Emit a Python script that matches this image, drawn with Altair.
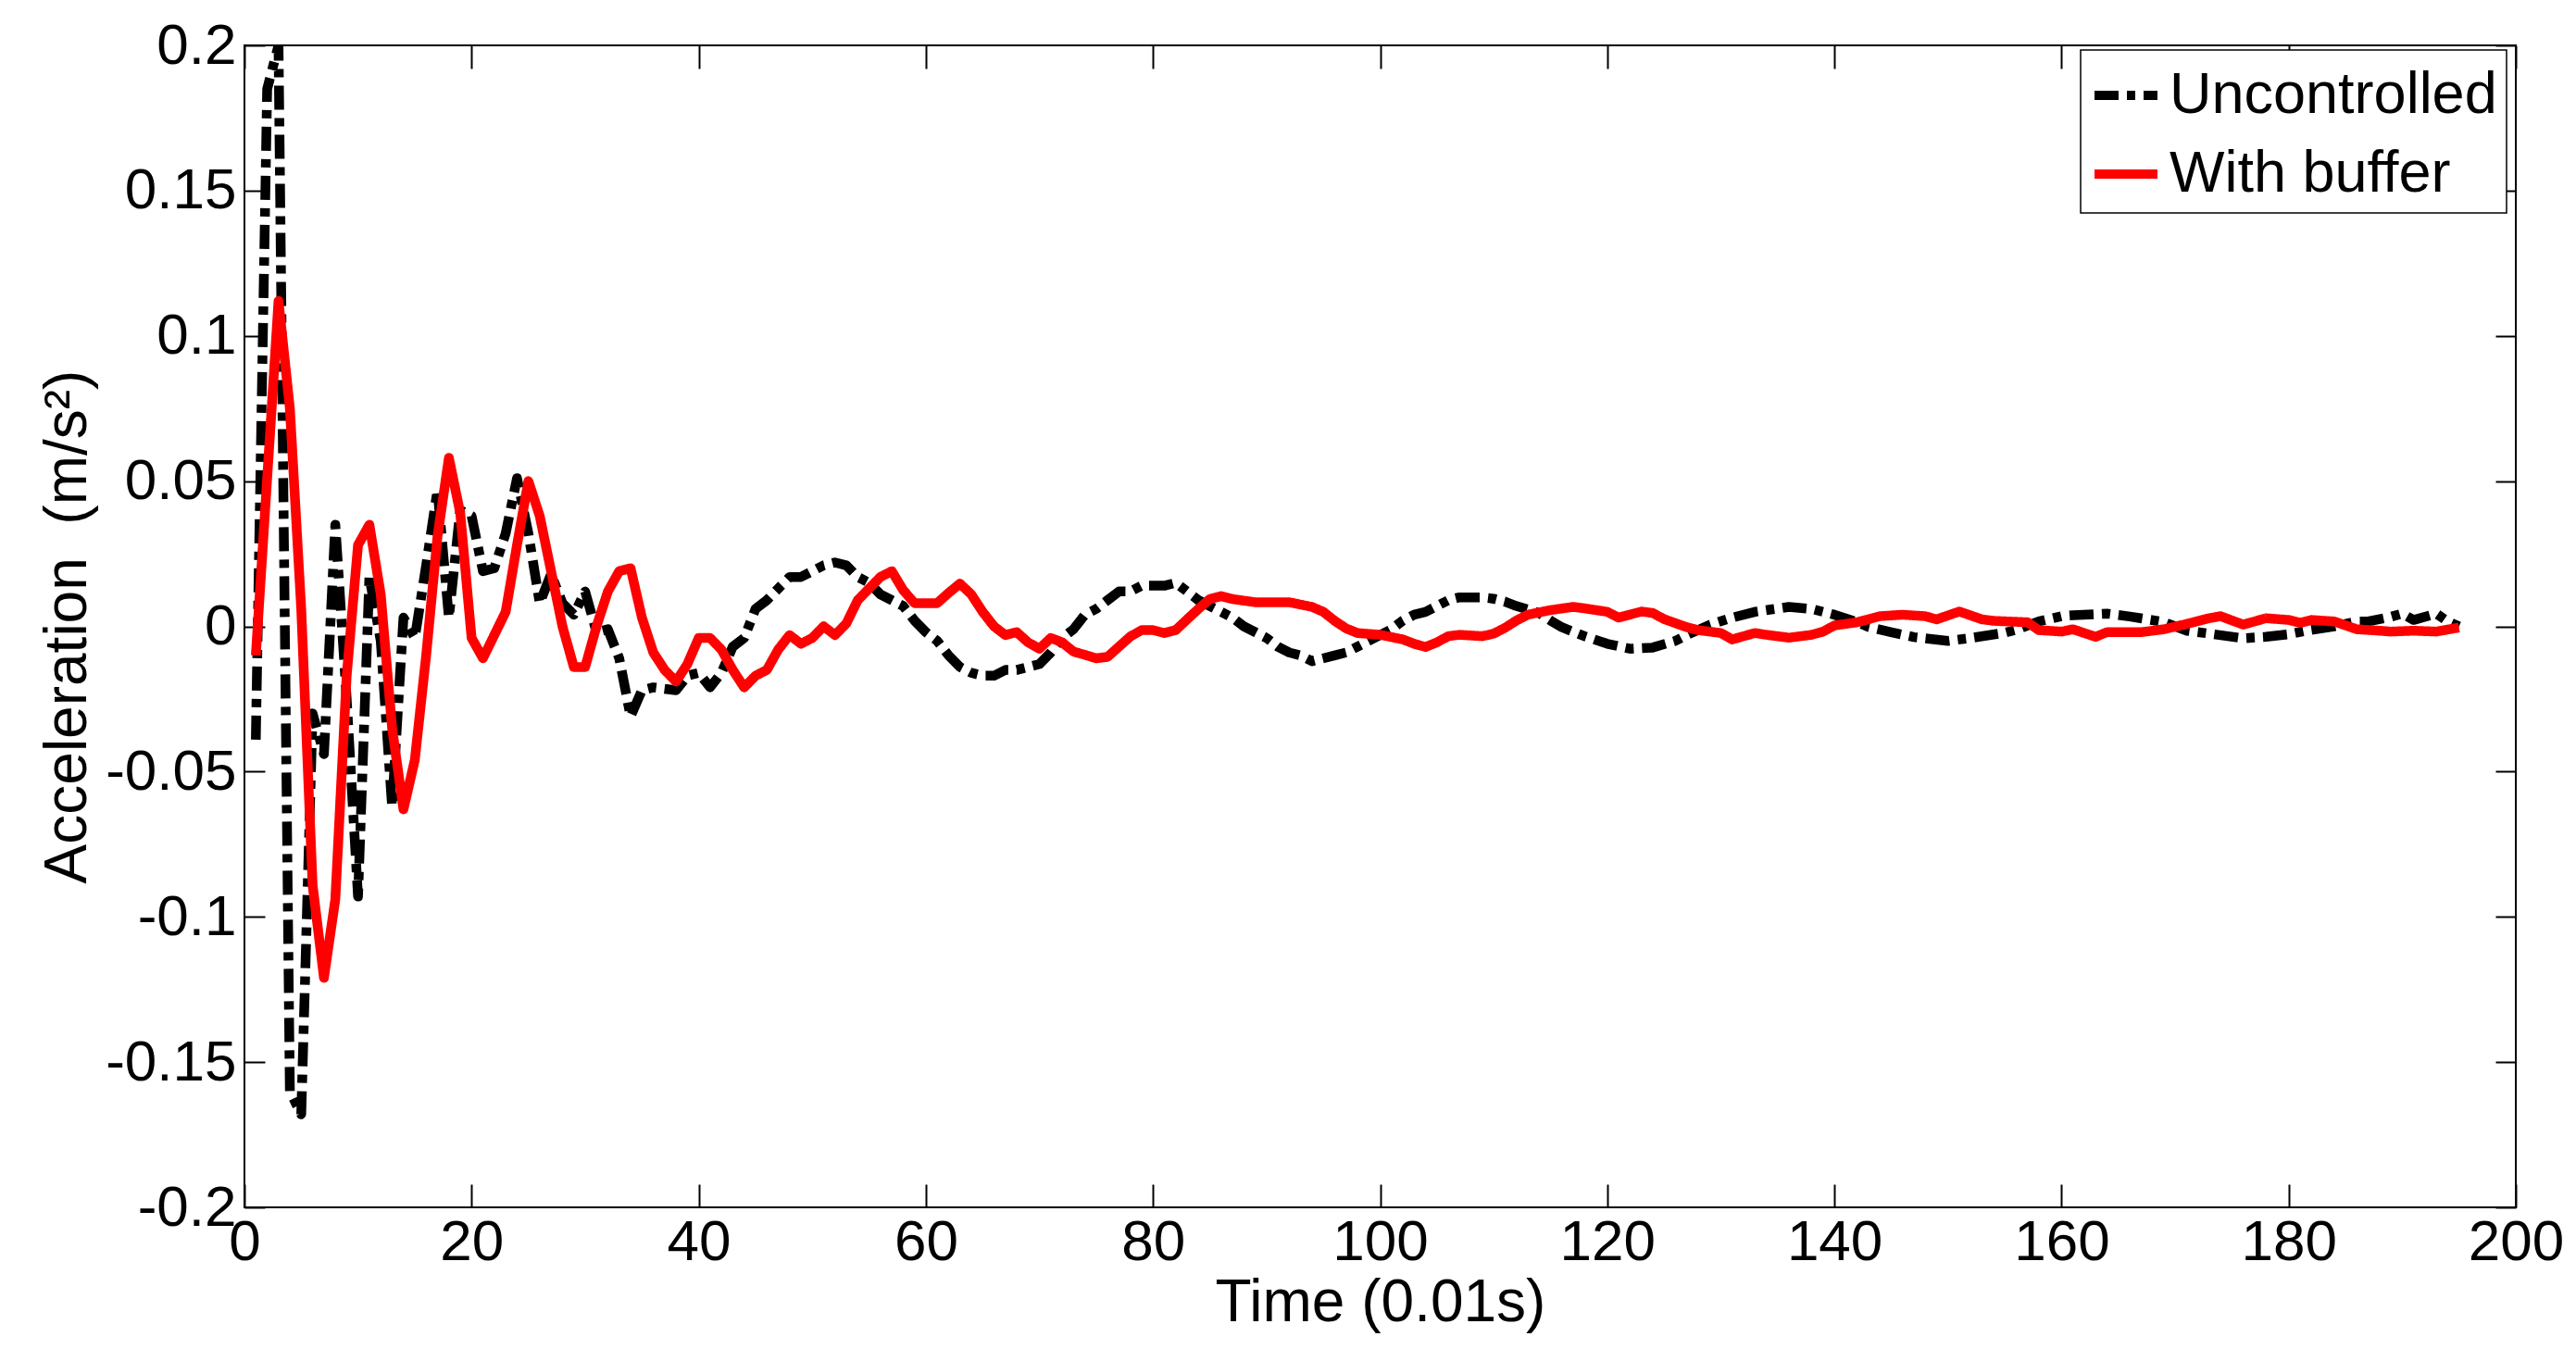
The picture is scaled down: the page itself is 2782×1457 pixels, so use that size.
import altair as alt
import pandas as pd

# Uncontrolled response (black dash-dot)
time_uncontrolled = [
    1, 2, 3, 4, 5, 6, 7, 8, 9, 10, 11, 12, 13, 14, 15, 16, 17, 18, 19, 20,
    21, 22, 23, 24, 25, 26, 27, 28, 29, 30, 31, 32, 33, 34, 35, 36, 38, 39, 40,
    41, 42, 43, 44, 45, 46, 47, 48, 49, 50, 51, 52, 53, 54, 55, 56, 57, 58, 59, 60,
    61, 62, 63, 64, 65, 66, 67, 68, 69, 70, 71, 72, 73, 74, 75, 76, 77, 78, 79, 80,
    81, 82, 83, 84, 85, 86, 87, 88, 89, 90, 91, 92, 93, 94, 95, 96, 97, 98, 99, 100,
    101, 102, 103, 104, 105, 106, 107, 109, 110, 111, 112, 114, 115, 116, 118, 120,
    122, 124, 126, 127, 129, 131, 133, 136, 138, 140, 142, 143, 145, 147, 150,
    152, 155, 156, 158, 160, 161, 164, 166, 169, 171, 173, 176, 178, 180,
    182, 184, 186, 187, 189, 190, 191, 193, 194, 195,
]
acc_uncontrolled = [
    -0.039, 0.185, 0.200, -0.160, -0.168, -0.030, -0.044, 0.035, -0.025, -0.093,
    0.017, -0.005, -0.062, 0.003, -0.004, 0.021, 0.047, 0.003, 0.040, 0.038,
    0.019, 0.020, 0.032, 0.051, 0.032, 0.008, 0.018, 0.008, 0.004, 0.012,
    -0.002, -0.001, -0.011, -0.031, -0.022, -0.021, -0.022, -0.017, -0.016,
    -0.021, -0.016, -0.007, -0.004, 0.006, 0.009, 0.013, 0.017, 0.017, 0.019,
    0.021, 0.022, 0.021, 0.017, 0.015, 0.011, 0.009, 0.007, 0.002, -0.002,
    -0.005, -0.010, -0.014, -0.016, -0.017, -0.017, -0.015, -0.015, -0.014, -0.013,
    -0.009, -0.004, -0.001, 0.004, 0.006, 0.009, 0.012, 0.012, 0.014, 0.014,
    0.014, 0.015, 0.012, 0.009, 0.007, 0.005, 0.003, 0.000, -0.002, -0.004,
    -0.007, -0.009, -0.010, -0.012, -0.011, -0.010, -0.009, -0.007, -0.005, -0.003,
    -0.001, 0.002, 0.004, 0.005, 0.007, 0.009, 0.010, 0.010, 0.0095, 0.0085,
    0.007, 0.0046, 0.002, -0.0003, -0.0034, -0.006,
    -0.0077, -0.0073, -0.005, -0.003, 0.0005, 0.003, 0.005, 0.0067, 0.006, 0.004,
    0.0015, -0.0002, -0.002, -0.0037, -0.005,
    -0.004, -0.0022, -0.0012, 0.0017, 0.0035, 0.0038, 0.0044, 0.0034, 0.0015,
    -0.0015, -0.0025, -0.0041, -0.0036, -0.0027,
    -0.0012, 0.000, 0.0017, 0.0017, 0.0033, 0.0044, 0.0022, 0.0044, 0.0017, 0.000,
]

# With buffer (red solid)
time_buffer = [
    1, 2, 3, 4, 5, 6, 7, 8, 9, 10, 11, 12, 13, 14, 15, 16, 17, 18, 19, 20,
    21, 22, 23, 24, 25, 26, 27, 28, 29, 30, 31, 32, 33, 34, 35, 36, 37, 38, 39, 40,
    41, 42, 43, 44, 45, 46, 47, 48, 49, 50, 51, 52, 53, 54, 55, 56, 57, 58, 59, 60,
    61, 62, 63, 64, 65, 66, 67, 68, 69, 70, 71, 72, 73, 74, 75, 76, 77, 78, 79, 80,
    81, 82, 83, 84, 85, 86, 87, 89, 92, 94, 95, 96, 97, 98, 100,
    102, 103, 104, 105, 106, 107, 109, 110, 111, 112, 113, 115, 117, 118, 120,
    121, 123, 124, 125, 127, 128, 130, 131, 133, 134, 136, 138, 139, 140,
    142, 144, 146, 148, 149, 151, 153, 154, 157, 158, 160,
    161, 163, 164, 167, 169, 171, 173, 174, 176, 178, 180,
    181, 182, 184, 186, 188, 189, 191, 193, 195,
]
acc_buffer = [
    -0.010, 0.051, 0.112, 0.075, 0.006, -0.089, -0.121, -0.094, -0.017, 0.028,
    0.035, 0.011, -0.035, -0.063, -0.046, -0.010, 0.031, 0.058, 0.039, -0.004,
    -0.011, -0.003, 0.005, 0.028, 0.050, 0.038, 0.019, 0.000, -0.014, -0.014,
    0.000, 0.012, 0.019, 0.020, 0.003, -0.009, -0.015, -0.019, -0.013, -0.004,
    -0.004, -0.008, -0.015, -0.021, -0.017, -0.015, -0.008, -0.003, -0.006, -0.004,
    0.000, -0.003, 0.001, 0.009, 0.013, 0.017, 0.019, 0.0125, 0.008, 0.008,
    0.008, 0.0115, 0.0147, 0.011, 0.005, 0.000, -0.003, -0.002, -0.0055, -0.0077,
    -0.004, -0.0055, -0.0087, -0.0098, -0.011, -0.0105, -0.007, -0.0035, -0.0013, -0.0013,
    -0.0023, -0.0013, 0.0024, 0.006, 0.0094, 0.0104, 0.0094, 0.0083, 0.0083, 0.0067,
    0.005, 0.0019, -0.0007, -0.0023, -0.0029,
    -0.0045, -0.006, -0.0071, -0.0055, -0.0034, -0.0029, -0.0034, -0.0025, -0.0005,
    0.002, 0.004, 0.0056, 0.0067, 0.0062, 0.005,
    0.003, 0.0051, 0.0046, 0.0025, -0.0003, -0.0013, -0.0023, -0.0045, -0.0023,
    -0.0029, -0.0039, -0.0029, -0.0018, 0.0003,
    0.0014, 0.0035, 0.004, 0.0035, 0.0024, 0.0051, 0.0024, 0.0019, 0.0014, -0.0013, -0.0018,
    -0.001, -0.0036, -0.002, -0.002, -0.001, 0.0008, 0.0028, 0.0035, 0.0006, 0.0028, 0.0022,
    0.0012, 0.0022, 0.0017, -0.001, -0.0015, -0.0018, -0.0015, -0.0018, -0.0004,
]

series_names = ["Uncontrolled", "With buffer"]
x_ticks = [0, 20, 40, 60, 80, 100, 120, 140, 160, 180, 200]
y_ticks = [-0.2, -0.15, -0.1, -0.05, 0, 0.05, 0.1, 0.15, 0.2]

data = pd.concat([
    pd.DataFrame({"time": time_uncontrolled, "acc": acc_uncontrolled, "series": series_names[0]}),
    pd.DataFrame({"time": time_buffer, "acc": acc_buffer, "series": series_names[1]}),
])

FONT = "Liberation Sans"
x_scale = alt.Scale(domain=[0, 200], nice=False, zero=False)
y_scale = alt.Scale(domain=[-0.2, 0.2], nice=False, zero=False)
y_label = "datum.value == 0 ? '0' : toString(round(datum.value * 100) / 100)"

leg = alt.Legend(
    title=None, orient="none", legendX=1983, legendY=5,
    symbolType="stroke", symbolSize=4624, symbolStrokeWidth=10,
    labelFontSize=63, labelFont=FONT, labelColor="black", labelLimit=0,
    labelOffset=8, padding=10, rowPadding=14,
)

lines = alt.Chart(data).mark_line(strokeWidth=10.5, strokeJoin="round", clip=True).encode(
    x=alt.X("time:Q", scale=x_scale,
            axis=alt.Axis(orient="bottom", values=x_ticks, offset=-25, tickSize=25,
                          labelPadding=7, domain=False, title="Time (0.01s)", titlePadding=3)),
    y=alt.Y("acc:Q", scale=y_scale,
            axis=alt.Axis(orient="left", values=y_ticks, offset=-22, tickSize=22,
                          labelPadding=9, labelExpr=y_label, domain=False,
                          title="Acceleration\u00a0\u00a0(m/s\u00b2)", titlePadding=8)),
    color=alt.Color("series:N", scale=alt.Scale(domain=series_names, range=["#000000", "#ff0000"]),
                    legend=leg),
    strokeDash=alt.StrokeDash("series:N",
                              scale=alt.Scale(domain=series_names, range=[[26, 9, 9, 9], [1, 0]]),
                              legend=leg),
)

# invisible copy only to carry the mirrored ticks on top and right
mirror = alt.Chart(data).mark_line(opacity=0).encode(
    x=alt.X("time:Q", scale=x_scale,
            axis=alt.Axis(orient="top", values=x_ticks, offset=-25, tickSize=25,
                          labels=False, domain=False, title=None)),
    y=alt.Y("acc:Q", scale=y_scale,
            axis=alt.Axis(orient="right", values=y_ticks, offset=-22, tickSize=22,
                          labels=False, domain=False, title=None)),
    detail="series:N",
)

chart = alt.layer(lines, mirror).resolve_scale(
    x="independent", y="independent"
).properties(
    width=2453, height=1255,
    autosize=alt.AutoSizeParams(type="none"),
    padding={"left": 256, "top": 41, "right": 57, "bottom": 145},
    background="white",
).configure_view(
    stroke="black", strokeWidth=2
).configure_axis(
    grid=False, labelFont=FONT, labelFontSize=62, labelColor="black",
    titleFont=FONT, titleFontSize=64, titleFontWeight="normal", titleColor="black",
    tickColor="black", tickWidth=2, labelFlush=False, labelOverlap=False,
).configure_legend(
    strokeColor="black", fillColor="white", strokeWidth=1.5,
)

chart.save("out.html", embed_options={"renderer": "svg", "actions": False})
